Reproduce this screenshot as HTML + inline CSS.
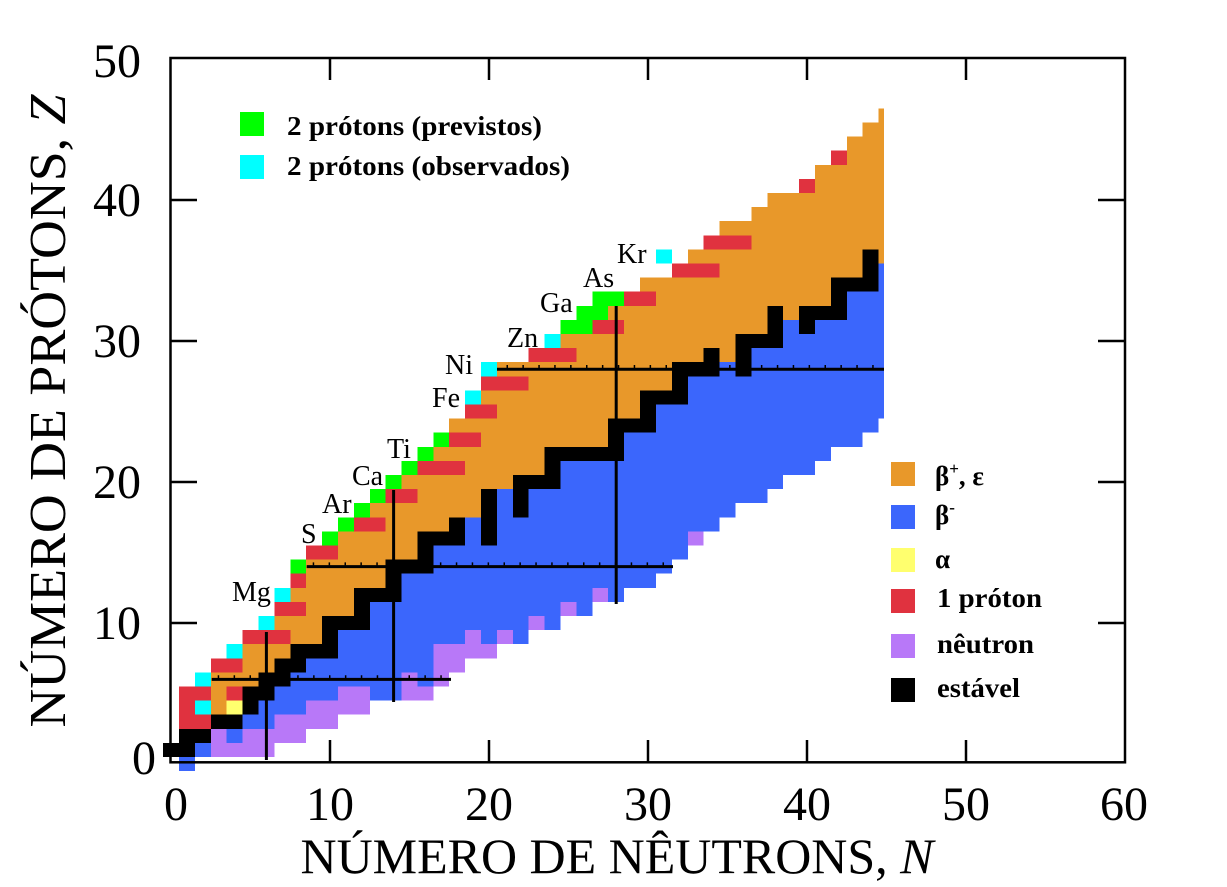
<!DOCTYPE html>
<html><head><meta charset="utf-8"><style>
html,body{margin:0;padding:0;background:#fff;}
svg{display:block;}
.o{fill:#E8982A}.b{fill:#3B66FC}.k{fill:#000}.r{fill:#E0323F}.g{fill:#00FF00}.c{fill:#00FFFF}.y{fill:#FFFF6E}.p{fill:#B878F8}
text{font-family:"Liberation Serif","DejaVu Serif",serif;fill:#000;}
</style></head><body>
<svg width="1227" height="887" viewBox="0 0 1227 887" xmlns="http://www.w3.org/2000/svg">
<defs><clipPath id="cl"><rect x="0" y="0" width="884" height="887"/></clipPath></defs>
<g clip-path="url(#cl)">
<g transform="matrix(15.9 0 0 14.1 163.05 756.95)" shape-rendering="crispEdges">
<!-- Z=0 -->
<rect class="b" x="1" y="0" width="1" height="1"/>
<!-- Z=1 -->
<rect class="k" x="0" y="-1" width="2" height="1"/><rect class="b" x="2" y="-1" width="1" height="1"/><rect class="p" x="3" y="-1" width="4" height="1"/>
<!-- Z=2 -->
<rect class="k" x="1" y="-2" width="2" height="1"/><rect class="p" x="3" y="-2" width="1" height="1"/><rect class="b" x="4" y="-2" width="1" height="1"/><rect class="p" x="5" y="-2" width="4" height="1"/>
<!-- Z=3 -->
<rect class="r" x="1" y="-3" width="2" height="1"/><rect class="k" x="3" y="-3" width="2" height="1"/><rect class="b" x="5" y="-3" width="2" height="1"/><rect class="p" x="7" y="-3" width="4" height="1"/>
<!-- Z=4 -->
<rect class="r" x="1" y="-4" width="1" height="1"/><rect class="c" x="2" y="-4" width="1" height="1"/><rect class="o" x="3" y="-4" width="1" height="1"/><rect class="y" x="4" y="-4" width="1" height="1"/><rect class="k" x="5" y="-4" width="1" height="1"/><rect class="b" x="6" y="-4" width="3" height="1"/><rect class="p" x="9" y="-4" width="4" height="1"/>
<!-- Z=5 -->
<rect class="r" x="1" y="-5" width="2" height="1"/><rect class="o" x="3" y="-5" width="1" height="1"/><rect class="r" x="4" y="-5" width="1" height="1"/><rect class="k" x="5" y="-5" width="2" height="1"/><rect class="b" x="7" y="-5" width="4" height="1"/><rect class="p" x="11" y="-5" width="2" height="1"/><rect class="b" x="13" y="-5" width="2" height="1"/><rect class="p" x="15" y="-5" width="2" height="1"/>
<!-- Z=6 -->
<rect class="c" x="2" y="-6" width="1" height="1"/><rect class="o" x="3" y="-6" width="3" height="1"/><rect class="k" x="6" y="-6" width="2" height="1"/><rect class="b" x="8" y="-6" width="7" height="1"/><rect class="p" x="15" y="-6" width="1" height="1"/><rect class="b" x="16" y="-6" width="1" height="1"/><rect class="p" x="17" y="-6" width="1" height="1"/>
<!-- Z=7 -->
<rect class="r" x="3" y="-7" width="2" height="1"/><rect class="o" x="5" y="-7" width="2" height="1"/><rect class="k" x="7" y="-7" width="2" height="1"/><rect class="b" x="9" y="-7" width="8" height="1"/><rect class="p" x="17" y="-7" width="2" height="1"/>
<!-- Z=8 -->
<rect class="c" x="4" y="-8" width="1" height="1"/><rect class="o" x="5" y="-8" width="3" height="1"/><rect class="k" x="8" y="-8" width="3" height="1"/><rect class="b" x="11" y="-8" width="6" height="1"/><rect class="p" x="17" y="-8" width="4" height="1"/>
<!-- Z=9 -->
<rect class="r" x="5" y="-9" width="3" height="1"/><rect class="o" x="8" y="-9" width="2" height="1"/><rect class="k" x="10" y="-9" width="1" height="1"/><rect class="b" x="11" y="-9" width="8" height="1"/><rect class="p" x="19" y="-9" width="1" height="1"/><rect class="b" x="20" y="-9" width="1" height="1"/><rect class="p" x="21" y="-9" width="1" height="1"/><rect class="b" x="22" y="-9" width="1" height="1"/>
<!-- Z=10 -->
<rect class="c" x="6" y="-10" width="1" height="1"/><rect class="o" x="7" y="-10" width="3" height="1"/><rect class="k" x="10" y="-10" width="3" height="1"/><rect class="b" x="13" y="-10" width="10" height="1"/><rect class="p" x="23" y="-10" width="1" height="1"/><rect class="b" x="24" y="-10" width="1" height="1"/>
<!-- Z=11 -->
<rect class="r" x="7" y="-11" width="2" height="1"/><rect class="o" x="9" y="-11" width="3" height="1"/><rect class="k" x="12" y="-11" width="1" height="1"/><rect class="b" x="13" y="-11" width="12" height="1"/><rect class="p" x="25" y="-11" width="1" height="1"/><rect class="b" x="26" y="-11" width="1" height="1"/>
<!-- Z=12 -->
<rect class="c" x="7" y="-12" width="1" height="1"/><rect class="o" x="8" y="-12" width="4" height="1"/><rect class="k" x="12" y="-12" width="3" height="1"/><rect class="b" x="15" y="-12" width="12" height="1"/><rect class="p" x="27" y="-12" width="1" height="1"/><rect class="b" x="28" y="-12" width="1" height="1"/>
<!-- Z=13 -->
<rect class="r" x="8" y="-13" width="1" height="1"/><rect class="o" x="9" y="-13" width="5" height="1"/><rect class="k" x="14" y="-13" width="1" height="1"/><rect class="b" x="15" y="-13" width="16" height="1"/>
<!-- Z=14 -->
<rect class="g" x="8" y="-14" width="1" height="1"/><rect class="o" x="9" y="-14" width="5" height="1"/><rect class="k" x="14" y="-14" width="3" height="1"/><rect class="b" x="17" y="-14" width="15" height="1"/>
<!-- Z=15 -->
<rect class="r" x="9" y="-15" width="2" height="1"/><rect class="o" x="11" y="-15" width="5" height="1"/><rect class="k" x="16" y="-15" width="1" height="1"/><rect class="b" x="17" y="-15" width="16" height="1"/>
<!-- Z=16 -->
<rect class="g" x="10" y="-16" width="1" height="1"/><rect class="o" x="11" y="-16" width="5" height="1"/><rect class="k" x="16" y="-16" width="3" height="1"/><rect class="b" x="19" y="-16" width="1" height="1"/><rect class="k" x="20" y="-16" width="1" height="1"/><rect class="b" x="21" y="-16" width="12" height="1"/><rect class="p" x="33" y="-16" width="1" height="1"/>
<!-- Z=17 -->
<rect class="g" x="11" y="-17" width="1" height="1"/><rect class="r" x="12" y="-17" width="2" height="1"/><rect class="o" x="14" y="-17" width="4" height="1"/><rect class="k" x="18" y="-17" width="1" height="1"/><rect class="b" x="19" y="-17" width="1" height="1"/><rect class="k" x="20" y="-17" width="1" height="1"/><rect class="b" x="21" y="-17" width="14" height="1"/>
<!-- Z=18 -->
<rect class="g" x="12" y="-18" width="1" height="1"/><rect class="o" x="13" y="-18" width="7" height="1"/><rect class="k" x="20" y="-18" width="1" height="1"/><rect class="b" x="21" y="-18" width="1" height="1"/><rect class="k" x="22" y="-18" width="1" height="1"/><rect class="b" x="23" y="-18" width="13" height="1"/>
<!-- Z=19 -->
<rect class="g" x="13" y="-19" width="1" height="1"/><rect class="r" x="14" y="-19" width="2" height="1"/><rect class="o" x="16" y="-19" width="4" height="1"/><rect class="k" x="20" y="-19" width="1" height="1"/><rect class="b" x="21" y="-19" width="1" height="1"/><rect class="k" x="22" y="-19" width="1" height="1"/><rect class="b" x="23" y="-19" width="15" height="1"/>
<!-- Z=20 -->
<rect class="g" x="14" y="-20" width="1" height="1"/><rect class="o" x="15" y="-20" width="7" height="1"/><rect class="k" x="22" y="-20" width="3" height="1"/><rect class="b" x="25" y="-20" width="14" height="1"/>
<!-- Z=21 -->
<rect class="g" x="15" y="-21" width="1" height="1"/><rect class="r" x="16" y="-21" width="3" height="1"/><rect class="o" x="19" y="-21" width="5" height="1"/><rect class="k" x="24" y="-21" width="1" height="1"/><rect class="b" x="25" y="-21" width="16" height="1"/>
<!-- Z=22 -->
<rect class="g" x="16" y="-22" width="1" height="1"/><rect class="o" x="17" y="-22" width="7" height="1"/><rect class="k" x="24" y="-22" width="5" height="1"/><rect class="b" x="29" y="-22" width="13" height="1"/>
<!-- Z=23 -->
<rect class="g" x="17" y="-23" width="1" height="1"/><rect class="r" x="18" y="-23" width="2" height="1"/><rect class="o" x="20" y="-23" width="8" height="1"/><rect class="k" x="28" y="-23" width="1" height="1"/><rect class="b" x="29" y="-23" width="15" height="1"/>
<!-- Z=24 -->
<rect class="o" x="18" y="-24" width="10" height="1"/><rect class="k" x="28" y="-24" width="3" height="1"/><rect class="b" x="31" y="-24" width="14" height="1"/>
<!-- Z=25 -->
<rect class="r" x="19" y="-25" width="2" height="1"/><rect class="o" x="21" y="-25" width="9" height="1"/><rect class="k" x="30" y="-25" width="1" height="1"/><rect class="b" x="31" y="-25" width="15" height="1"/>
<!-- Z=26 -->
<rect class="c" x="19" y="-26" width="1" height="1"/><rect class="o" x="20" y="-26" width="10" height="1"/><rect class="k" x="30" y="-26" width="3" height="1"/><rect class="b" x="33" y="-26" width="13" height="1"/>
<!-- Z=27 -->
<rect class="r" x="20" y="-27" width="3" height="1"/><rect class="o" x="23" y="-27" width="9" height="1"/><rect class="k" x="32" y="-27" width="1" height="1"/><rect class="b" x="33" y="-27" width="13" height="1"/>
<!-- Z=28 -->
<rect class="c" x="20" y="-28" width="1" height="1"/><rect class="o" x="21" y="-28" width="11" height="1"/><rect class="k" x="32" y="-28" width="3" height="1"/><rect class="b" x="35" y="-28" width="1" height="1"/><rect class="k" x="36" y="-28" width="1" height="1"/><rect class="b" x="37" y="-28" width="9" height="1"/>
<!-- Z=29 -->
<rect class="r" x="23" y="-29" width="3" height="1"/><rect class="o" x="26" y="-29" width="8" height="1"/><rect class="k" x="34" y="-29" width="1" height="1"/><rect class="o" x="35" y="-29" width="1" height="1"/><rect class="k" x="36" y="-29" width="1" height="1"/><rect class="b" x="37" y="-29" width="9" height="1"/>
<!-- Z=30 -->
<rect class="c" x="24" y="-30" width="1" height="1"/><rect class="o" x="25" y="-30" width="11" height="1"/><rect class="k" x="36" y="-30" width="3" height="1"/><rect class="b" x="39" y="-30" width="7" height="1"/>
<!-- Z=31 -->
<rect class="g" x="25" y="-31" width="2" height="1"/><rect class="r" x="27" y="-31" width="2" height="1"/><rect class="o" x="29" y="-31" width="9" height="1"/><rect class="k" x="38" y="-31" width="1" height="1"/><rect class="b" x="39" y="-31" width="1" height="1"/><rect class="k" x="40" y="-31" width="1" height="1"/><rect class="b" x="41" y="-31" width="5" height="1"/>
<!-- Z=32 -->
<rect class="g" x="26" y="-32" width="2" height="1"/><rect class="o" x="28" y="-32" width="10" height="1"/><rect class="k" x="38" y="-32" width="1" height="1"/><rect class="o" x="39" y="-32" width="1" height="1"/><rect class="k" x="40" y="-32" width="3" height="1"/><rect class="b" x="43" y="-32" width="3" height="1"/>
<!-- Z=33 -->
<rect class="g" x="27" y="-33" width="2" height="1"/><rect class="r" x="29" y="-33" width="2" height="1"/><rect class="o" x="31" y="-33" width="11" height="1"/><rect class="k" x="42" y="-33" width="1" height="1"/><rect class="b" x="43" y="-33" width="3" height="1"/>
<!-- Z=34 -->
<rect class="o" x="30" y="-34" width="12" height="1"/><rect class="k" x="42" y="-34" width="3" height="1"/><rect class="b" x="45" y="-34" width="1" height="1"/>
<!-- Z=35 -->
<rect class="r" x="32" y="-35" width="3" height="1"/><rect class="o" x="35" y="-35" width="9" height="1"/><rect class="k" x="44" y="-35" width="1" height="1"/><rect class="b" x="45" y="-35" width="1" height="1"/>
<!-- Z=36 -->
<rect class="c" x="31" y="-36" width="1" height="1"/><rect class="o" x="33" y="-36" width="11" height="1"/><rect class="k" x="44" y="-36" width="1" height="1"/><rect class="o" x="45" y="-36" width="1" height="1"/>
<!-- Z=37..46 -->
<rect class="r" x="34" y="-37" width="3" height="1"/><rect class="o" x="37" y="-37" width="9" height="1"/>
<rect class="o" x="35" y="-38" width="11" height="1"/>
<rect class="o" x="37" y="-39" width="9" height="1"/>
<rect class="o" x="38" y="-40" width="8" height="1"/>
<rect class="r" x="40" y="-41" width="1" height="1"/><rect class="o" x="41" y="-41" width="5" height="1"/>
<rect class="o" x="41" y="-42" width="5" height="1"/>
<rect class="r" x="42" y="-43" width="1" height="1"/><rect class="o" x="43" y="-43" width="3" height="1"/>
<rect class="o" x="43" y="-44" width="3" height="1"/>
<rect class="o" x="44" y="-45" width="2" height="1"/>
<rect class="o" x="45" y="-46" width="1" height="1"/>
</g>
<!-- magic number lines -->
<g stroke="#000" fill="none">
<line x1="497" y1="369.2" x2="884" y2="369.2" stroke-width="3"/>
<line x1="497" y1="366.5" x2="884" y2="366.5" stroke-width="3" stroke-dasharray="1.5 14.4" stroke-dashoffset="-9.5"/>
</g>
</g>
<g stroke="#000" fill="none">
<line x1="306.7" y1="566.6" x2="673" y2="566.6" stroke-width="3"/>
<line x1="306.7" y1="563.9" x2="673" y2="563.9" stroke-width="3" stroke-dasharray="1.5 14.4" stroke-dashoffset="-6"/>
<line x1="211.7" y1="679.4" x2="451" y2="679.4" stroke-width="3"/>
<line x1="211.7" y1="676.7" x2="451" y2="676.7" stroke-width="3" stroke-dasharray="1.5 14.4" stroke-dashoffset="-6"/>
<line x1="266.4" y1="632" x2="266.4" y2="760" stroke-width="3"/>
<line x1="393.6" y1="490" x2="393.6" y2="702" stroke-width="3"/>
<line x1="616.2" y1="306" x2="616.2" y2="604" stroke-width="3"/>
</g>
<!-- frame -->
<g stroke="#000" stroke-width="2.5" fill="none">
<rect x="170.5" y="58" width="954.5" height="704.3"/>
<line x1="330" y1="762" x2="330" y2="740"/><line x1="489" y1="762" x2="489" y2="740"/><line x1="648" y1="762" x2="648" y2="740"/><line x1="807" y1="762" x2="807" y2="740"/><line x1="966" y1="762" x2="966" y2="740"/>
<line x1="330" y1="58" x2="330" y2="80"/><line x1="489" y1="58" x2="489" y2="80"/><line x1="648" y1="58" x2="648" y2="80"/><line x1="807" y1="58" x2="807" y2="80"/><line x1="966" y1="58" x2="966" y2="80"/>
<line x1="170" y1="623" x2="197" y2="623"/><line x1="170" y1="482" x2="197" y2="482"/><line x1="170" y1="341" x2="197" y2="341"/><line x1="170" y1="200" x2="197" y2="200"/>
<line x1="1125" y1="623" x2="1098" y2="623"/><line x1="1125" y1="482" x2="1098" y2="482"/><line x1="1125" y1="341" x2="1098" y2="341"/><line x1="1125" y1="200" x2="1098" y2="200"/>
</g>
<!-- tick labels -->
<g font-size="48">
<text x="176" y="820" text-anchor="middle">0</text>
<text x="330" y="820" text-anchor="middle">10</text>
<text x="489" y="820" text-anchor="middle">20</text>
<text x="648" y="820" text-anchor="middle">30</text>
<text x="807" y="820" text-anchor="middle">40</text>
<text x="966" y="820" text-anchor="middle">50</text>
<text x="1124" y="820" text-anchor="middle">60</text>
<text x="141" y="77" text-anchor="end">50</text>
<text x="141" y="216" text-anchor="end">40</text>
<text x="141" y="357" text-anchor="end">30</text>
<text x="141" y="498" text-anchor="end">20</text>
<text x="141" y="639" text-anchor="end">10</text>
<text x="156" y="774" text-anchor="end">0</text>
</g>
<!-- axis titles -->
<text x="617" y="873" font-size="50" text-anchor="middle" textLength="633" lengthAdjust="spacingAndGlyphs">NÚMERO DE NÊUTRONS, <tspan font-style="italic">N</tspan></text>
<text transform="translate(65,411) rotate(-90)" font-size="52" text-anchor="middle" textLength="633" lengthAdjust="spacingAndGlyphs">NÚMERO DE PRÓTONS, <tspan font-style="italic">Z</tspan></text>
<!-- element labels -->
<g font-size="28">
<text x="232" y="601">Mg</text>
<text x="301" y="543">S</text>
<text x="322" y="513">Ar</text>
<text x="352" y="485">Ca</text>
<text x="387" y="458">Ti</text>
<text x="432" y="407">Fe</text>
<text x="445" y="374">Ni</text>
<text x="507" y="347">Zn</text>
<text x="540" y="312">Ga</text>
<text x="583" y="287">As</text>
<text x="617" y="263">Kr</text>
</g>
<!-- top legend -->
<rect x="240" y="112" width="24" height="24" fill="#00FF00"/>
<rect x="240" y="155" width="24" height="24" fill="#00FFFF"/>
<g font-size="27" font-weight="bold">
<text x="287" y="135" textLength="255" lengthAdjust="spacingAndGlyphs">2 prótons (previstos)</text>
<text x="287" y="175" textLength="283" lengthAdjust="spacingAndGlyphs">2 prótons (observados)</text>
</g>
<!-- right legend -->
<rect x="891" y="462" width="24" height="24" class="o"/>
<rect x="891" y="505" width="24" height="24" class="b"/>
<rect x="891" y="548" width="24" height="24" class="y"/>
<rect x="891" y="589" width="24" height="24" class="r"/>
<rect x="891" y="634" width="24" height="24" class="p"/>
<rect x="891" y="678" width="24" height="24" class="k"/>
<g font-size="27" font-weight="bold">
<text x="935" y="485">β<tspan font-size="17" dy="-11">+</tspan><tspan dy="11">, ε</tspan></text>
<text x="935" y="524">β<tspan font-size="17" dy="-11">-</tspan></text>
<text x="935" y="568">α</text>
<text x="937" y="607" textLength="105" lengthAdjust="spacingAndGlyphs">1 próton</text>
<text x="937" y="653" textLength="97" lengthAdjust="spacingAndGlyphs">nêutron</text>
<text x="937" y="697" textLength="83" lengthAdjust="spacingAndGlyphs">estável</text>
</g>
</svg>
</body></html>
